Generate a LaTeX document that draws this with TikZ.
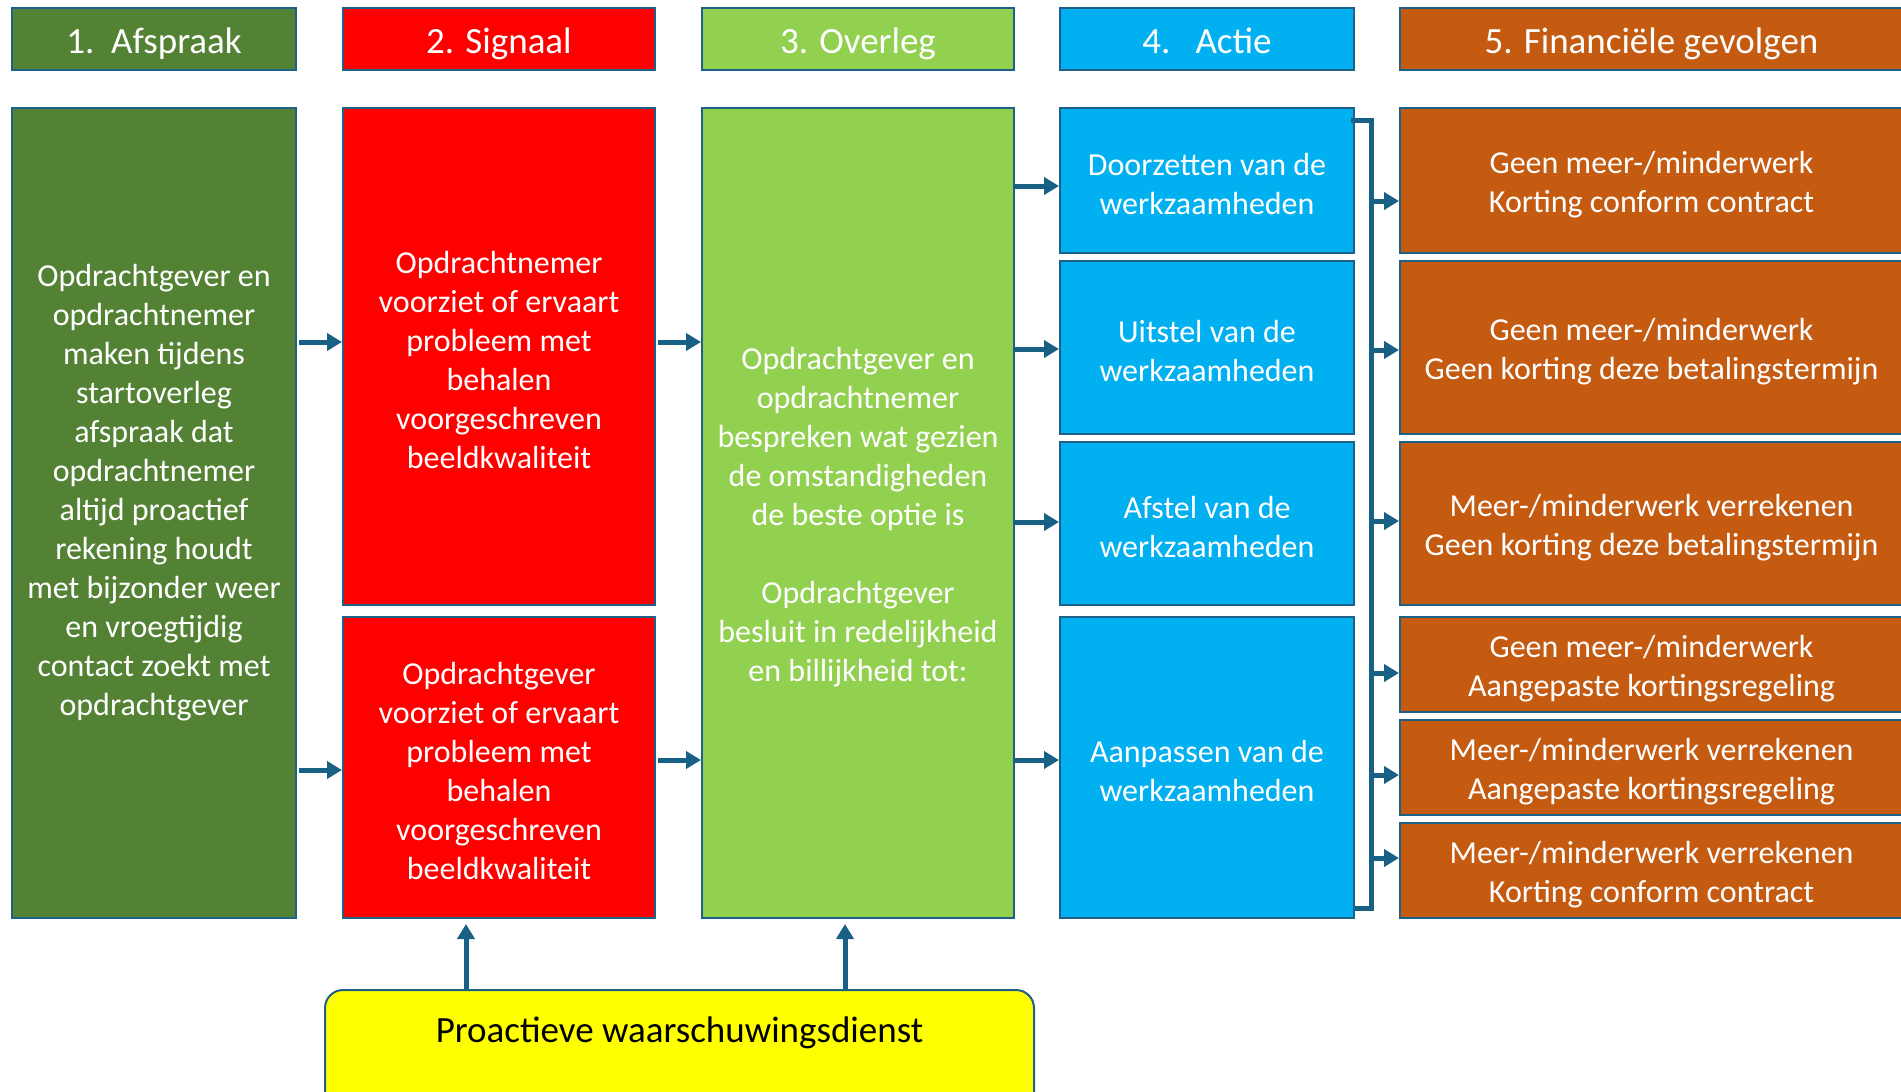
\documentclass[tikz,border=0pt]{standalone}
\usepackage{fontspec}
\setmainfont{Carlito}
\usetikzlibrary{arrows.meta,calc}
\definecolor{edge}{RGB}{30,96,135}
\definecolor{cAfs}{RGB}{84,130,53}
\definecolor{cSig}{RGB}{255,0,0}
\definecolor{cOver}{RGB}{146,208,80}
\definecolor{cAct}{RGB}{0,176,240}
\definecolor{cFin}{RGB}{197,90,17}
\definecolor{cWarn}{RGB}{255,255,0}
\definecolor{conn}{RGB}{24,96,132}
\newcommand\topfix{\rule{0pt}{30pt}}
\begin{document}
\begin{tikzpicture}[x=1pt,y=-1pt,
  box/.style={draw=edge, line width=2pt, rectangle, inner sep=0pt, text=white, align=center,
    font=\fontsize{32}{39}\selectfont},
  headbox/.style={draw=edge, line width=2pt, rectangle, inner sep=0pt, text=white,
    font=\fontsize{37}{44}\selectfont, text height=36pt, text depth=8pt},
  arr/.style={draw=conn, line width=5pt, -{Triangle[length=15pt,width=17pt]}},
  bus/.style={draw=conn, line width=5pt, line join=miter},
  txt/.style={text=white, align=center, inner sep=0pt, font=\fontsize{32}{39}\selectfont},
]
\useasboundingbox (0,0) rectangle (1901,1092);
\fill[white] (0,0) rectangle (1901,1092);

% headers
\node[headbox, fill=cAfs,  minimum width=284pt, minimum height=62pt] (h1) at (154,39) {1.\ \ Afspraak};
\node[headbox, fill=cSig,  minimum width=312pt, minimum height=62pt] (h2) at (499,39) {2. Signaal};
\node[headbox, fill=cOver, minimum width=312pt, minimum height=62pt] (h3) at (858,39) {3. Overleg};
\node[headbox, fill=cAct,  minimum width=294pt, minimum height=62pt] (h4) at (1207,39) {4.\ \ \ Actie};
\node[headbox, fill=cFin,  minimum width=503pt, minimum height=62pt] (h5) at (1651.5,39) {5. Financiële gevolgen};

% column 1
\node[box, fill=cAfs, minimum width=284pt, minimum height=810pt] (afs) at (154,513) {};
\node[txt] (afst) at (154,493) {Opdrachtgever en\\opdrachtnemer\\maken tijdens\\startoverleg\\afspraak dat\\opdrachtnemer\\altijd proactief\\rekening houdt\\met bijzonder weer\\en vroegtijdig\\contact zoekt met\\opdrachtgever};

% column 2
\node[box, fill=cSig, minimum width=312pt, minimum height=497pt] (sig1) at (499,356.5)
  {\topfix Opdrachtnemer\\voorziet of ervaart\\probleem met\\behalen\\voorgeschreven\\beeldkwaliteit};
\node[box, fill=cSig, minimum width=312pt, minimum height=301pt] (sig2) at (499,767.5)
  {\topfix Opdrachtgever\\voorziet of ervaart\\probleem met\\behalen\\voorgeschreven\\beeldkwaliteit};

% column 3
\node[box, fill=cOver, minimum width=312pt, minimum height=810pt] (over) at (858,513)
  {\topfix Opdrachtgever en\\opdrachtnemer\\bespreken wat gezien\\de omstandigheden\\de beste optie is\\[39pt]Opdrachtgever\\besluit in redelijkheid\\en billijkheid tot:};

% column 4
\node[box, fill=cAct, minimum width=294pt, minimum height=145pt] (act1) at (1207,180.5) {\topfix Doorzetten van de\\werkzaamheden};
\node[box, fill=cAct, minimum width=294pt, minimum height=173pt] (act2) at (1207,347.5) {\topfix Uitstel van de\\werkzaamheden};
\node[box, fill=cAct, minimum width=294pt, minimum height=163pt] (act3) at (1207,523.5) {\topfix Afstel van de\\werkzaamheden};
\node[box, fill=cAct, minimum width=294pt, minimum height=301pt] (act4) at (1207,767.5) {\topfix Aanpassen van de\\werkzaamheden};

% column 5
\node[box, fill=cFin, minimum width=503pt, minimum height=145pt] (fin1) at (1651.5,180.5) {\topfix Geen meer-/minderwerk\\Korting conform contract};
\node[box, fill=cFin, minimum width=503pt, minimum height=173pt] (fin2) at (1651.5,347.5) {\topfix Geen meer-/minderwerk\\Geen korting deze betalingstermijn};
\node[box, fill=cFin, minimum width=503pt, minimum height=163pt] (fin3) at (1651.5,523.5) {\topfix Meer-/minderwerk verrekenen\\Geen korting deze betalingstermijn};
\node[box, fill=cFin, minimum width=503pt, minimum height=95pt] (fin4) at (1651.5,664.5) {\topfix Geen meer-/minderwerk\\Aangepaste kortingsregeling};
\node[box, fill=cFin, minimum width=503pt, minimum height=95pt] (fin5) at (1651.5,767.5) {\topfix Meer-/minderwerk verrekenen\\Aangepaste kortingsregeling};
\node[box, fill=cFin, minimum width=503pt, minimum height=95pt] (fin6) at (1651.5,870.5) {\topfix Meer-/minderwerk verrekenen\\Korting conform contract};

% warning service
\node[draw=edge, line width=2pt, fill=cWarn, rounded corners=18pt, minimum width=709pt, minimum height=130pt, inner sep=0pt] (warn) at (679.5,1055) {};
\node[inner sep=0pt, font=\fontsize{37}{44}\selectfont] (warnt) at (679.5,1033) {Proactieve waarschuwingsdienst};

% helper coordinates
\coordinate (r1) at (0,342);
\coordinate (r2) at (0,770);
\coordinate (r3) at (0,760);
\coordinate (a1) at (0,186);
\coordinate (a2) at (0,349);
\coordinate (a3) at (0,522);
\coordinate (a4) at (0,760);
\coordinate (f1) at (0,201);
\coordinate (f2) at (0,350);
\coordinate (f3) at (0,521);
\coordinate (f4) at (0,673);
\coordinate (f5) at (0,775);
\coordinate (f6) at (0,858);
\coordinate (bx) at (1371,0);
\coordinate (btop) at (0,120);
\coordinate (bbot) at (0,908);
\coordinate (u1) at (466,0);
\coordinate (u2) at (845,0);

% connectors 1 -> 2
\draw[arr] ([xshift=2pt]afs.east |- r1) -- (sig1.west |- r1);
\draw[arr] ([xshift=2pt]afs.east |- r2) -- (sig2.west |- r2);
% 2 -> 3
\draw[arr] ([xshift=2pt]sig1.east |- r1) -- (over.west |- r1);
\draw[arr] ([xshift=2pt]sig2.east |- r3) -- (over.west |- r3);
% 3 -> 4
\draw[arr] (over.east |- a1) -- (act1.west |- a1);
\draw[arr] (over.east |- a2) -- (act2.west |- a2);
\draw[arr] (over.east |- a3) -- (act3.west |- a3);
\draw[arr] (over.east |- a4) -- (act4.west |- a4);
% bus
\draw[bus] ([xshift=-4pt]act1.east |- btop) -- (bx |- btop) -- (bx |- bbot) -- ([xshift=-2pt]act4.east |- bbot);
% bus -> 5
\draw[arr] (bx |- f1) -- (fin1.west |- f1);
\draw[arr] (bx |- f2) -- (fin2.west |- f2);
\draw[arr] (bx |- f3) -- (fin3.west |- f3);
\draw[arr] (bx |- f4) -- (fin4.west |- f4);
\draw[arr] (bx |- f5) -- (fin5.west |- f5);
\draw[arr] (bx |- f6) -- (fin6.west |- f6);
% warning -> signal / overleg
\draw[arr, shorten >=5pt] (warn.north -| u1) -- (sig2.south -| u1);
\draw[arr, shorten >=5pt] (warn.north -| u2) -- (over.south -| u2);
\end{tikzpicture}
\end{document}
